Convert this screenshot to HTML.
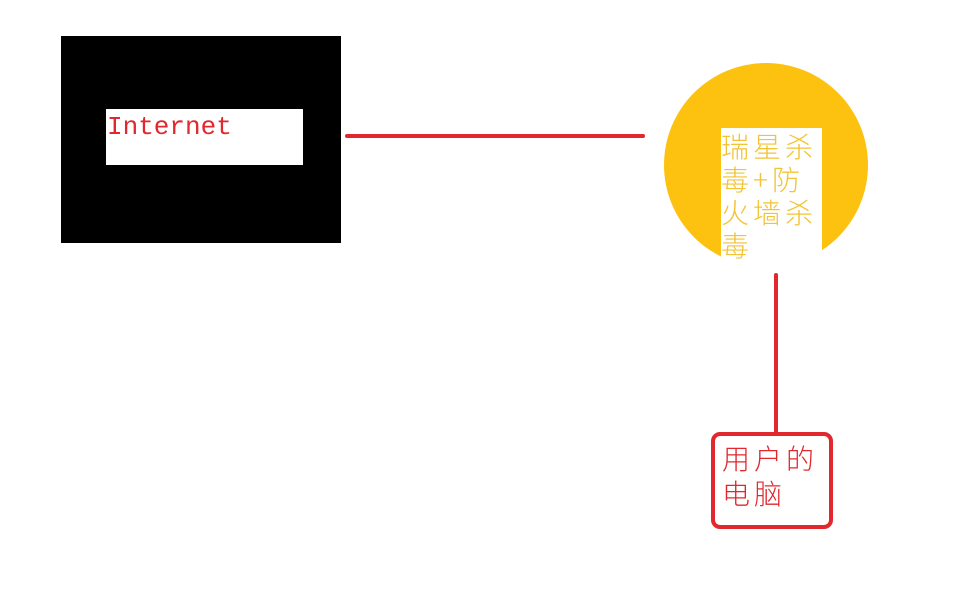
<!DOCTYPE html>
<html><head><meta charset="utf-8"><style>
body{margin:0;width:961px;height:614px;background:#fff;position:relative;overflow:hidden;font-family:"Liberation Serif","Noto Serif CJK SC","Noto Sans CJK SC",serif}
div{position:absolute}
</style></head><body>
<div style="left:61px;top:36px;width:280px;height:207px;background:#000"></div>
<div style="left:106px;top:109px;width:197px;height:56px;background:#fff"></div>
<div style="left:107px;top:110px;font-size:26px;color:#e0282e;font-family:'Liberation Mono',monospace;line-height:34px">Internet</div>
<div style="left:345px;top:134px;width:300px;height:4px;background:#e0282e;border-radius:2px"></div>
<div style="left:664px;top:63px;width:204px;height:204px;border-radius:50%;background:#fdc210;clip-path:inset(0 0 8px 0)"></div>
<div style="left:721px;top:128px;width:101px;height:140px;background:#fff"></div>
<div style="left:721px;top:130px;width:104px;font-size:28px;line-height:33px;letter-spacing:4px;color:#f2c335;font-family:'Noto Sans CJK SC',sans-serif;font-weight:300;word-break:break-all">瑞星杀毒+防火墙杀毒</div>
<div style="left:774px;top:273px;width:4px;height:162px;background:#e0282e;border-radius:2px"></div>
<div style="left:711px;top:432px;width:114px;height:89px;border:4px solid #e0282e;border-radius:9px"></div>
<div style="left:722px;top:441px;width:104px;font-size:28px;line-height:35px;letter-spacing:4px;color:#e0282e;font-family:'Noto Sans CJK SC',sans-serif;font-weight:300">用户的<br>电脑</div>
</body></html>
